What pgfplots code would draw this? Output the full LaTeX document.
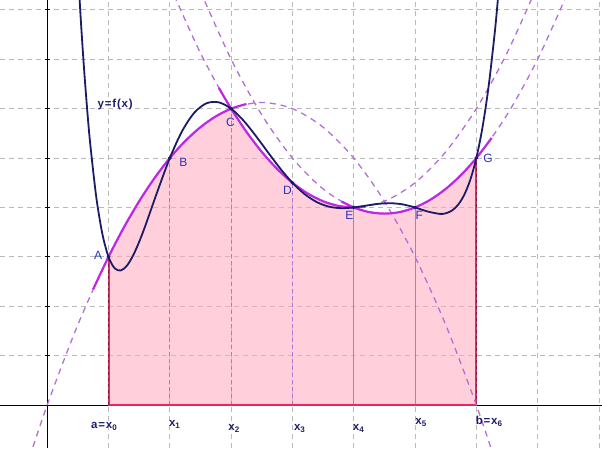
\documentclass[border=0pt]{standalone}
\usepackage{fontspec}
\setmainfont{Liberation Sans}
\newfontfamily\lblfont[LetterSpace=7]{Liberation Sans}
\usepackage{pgfplots}
\pgfplotsset{compat=1.18}
\definecolor{navy}{RGB}{28,28,100}
\definecolor{lblnavy}{RGB}{30,30,110}
\definecolor{ptlbl}{RGB}{50,50,175}
\definecolor{simp}{RGB}{190,40,225}
\definecolor{simpd}{RGB}{180,110,215}
\definecolor{pinkf}{RGB}{255,170,190}
\definecolor{rededge}{RGB}{230,40,95}
\definecolor{vline}{RGB}{175,120,215}
\definecolor{gridc}{RGB}{185,185,185}
\begin{document}
\begin{tikzpicture}
\begin{axis}[
 scale only axis, width=602bp, height=448bp,
 xmin=-0.77, xmax=9.05, ymin=-0.87, ymax=8.2,
 axis lines=middle, axis line style={-, black, line width=0.9bp},
 xtick={1,...,9}, ytick={1,...,8},
 xticklabels={}, yticklabels={},
 grid=major, major grid style={gridc, line width=0.8bp, dash pattern=on 5bp off 4bp},
 x tick style={draw=none}, y tick style={black, line width=0.8bp}, major tick length=5bp,
 clip=true,
]
\coordinate (SW) at (rel axis cs:0,0);
\coordinate (NE) at (rel axis cs:1,1);
% Simpson area
\addplot[draw=none, fill=pinkf, fill opacity=0.55] coordinates {
(1,0)(1,3)(1.1,3.245)(1.2,3.48)(1.3,3.705)(1.4,3.92)(1.5,4.125)(1.6,4.32)(1.7,4.505)(1.8,4.68)(1.9,4.845)
(2,5)(2.1,5.145)(2.2,5.28)(2.3,5.405)(2.4,5.52)(2.5,5.625)(2.6,5.72)(2.7,5.805)(2.8,5.88)(2.9,5.945)
(3,6)(3.1,5.805)(3.2,5.62)(3.3,5.445)(3.4,5.28)(3.5,5.125)(3.6,4.98)(3.7,4.845)(3.8,4.72)(3.9,4.605)
(4,4.5)(4.1,4.405)(4.2,4.32)(4.3,4.245)(4.4,4.18)(4.5,4.125)(4.6,4.08)(4.7,4.045)(4.8,4.02)(4.9,4.005)
(5,4)(5.1,3.955)(5.2,3.92)(5.3,3.895)(5.4,3.88)(5.5,3.875)(5.6,3.88)(5.7,3.895)(5.8,3.92)(5.9,3.955)
(6,4)(6.1,4.055)(6.2,4.12)(6.3,4.195)(6.4,4.28)(6.5,4.375)(6.6,4.48)(6.7,4.595)(6.8,4.72)(6.9,4.855)
(7,5)(7,0)} \closedcycle;
% ordinates
\addplot[vline, line width=1bp, dash pattern=on 4bp off 3bp] coordinates {(2,0)(2,5)};
\addplot[vline, line width=1bp, dash pattern=on 4bp off 3bp] coordinates {(3,0)(3,6)};
\addplot[vline, line width=1bp, dash pattern=on 4bp off 3bp] coordinates {(4,0)(4,4.5)};
\addplot[vline, line width=1bp] coordinates {(5,0)(5,4)};
\addplot[vline, line width=1bp] coordinates {(6,0)(6,4)};
\addplot[rededge, line width=2bp] coordinates {(1,3)(1,0)(7,0)(7,5)};
\addplot[rededge!60!black, line width=1.6bp, dash pattern=on 3bp off 3bp] coordinates {(1,0)(1,3)};
\addplot[rededge!60!black, line width=1.6bp, dash pattern=on 3bp off 3bp] coordinates {(7,0)(7,5)};
% dashed parabolas
\addplot[simpd, line width=1.3bp, dash pattern=on 6bp off 5bp, smooth] coordinates {
(-0.4,-1.48)(0,0)(0.5,1.625)(1,3)(1.5,4.125)(2,5)(2.5,5.625)(3,6)(3.5,6.125)(4,6)(4.5,5.625)(5,5)(5.5,4.125)(6,3)(6.5,1.625)(7,0)(7.4,-1.48)};
\addplot[simpd, line width=1.3bp, dash pattern=on 6bp off 5bp, smooth] coordinates {
(2,8.5)(2.5,7.125)(3,6)(3.5,5.125)(4,4.5)(4.5,4.125)(5,4)(5.5,4.125)(6,4.5)(6.5,5.125)(7,6)(7.5,7.125)(8,8.5)};
\addplot[simpd, line width=1.3bp, dash pattern=on 6bp off 5bp, smooth] coordinates {
(2.5,8.375)(3,7)(3.5,5.875)(4,5)(4.5,4.375)(5,4)(5.5,3.875)(6,4)(6.5,4.375)(7,5)(7.5,5.875)(8,7)(8.5,8.375)};
% solid parabolas
\addplot[simp, line width=2.2bp, smooth] coordinates {
(0.75,2.344)(1,3)(1.25,3.594)(1.5,4.125)(1.75,4.594)(2,5)(2.25,5.344)(2.5,5.625)(2.75,5.844)(3,6)(3.25,6.094)};
\addplot[simp, line width=2.2bp, smooth] coordinates {
(2.8,6.42)(3,6)(3.25,5.531)(3.5,5.125)(3.75,4.781)(4,4.5)(4.25,4.281)(4.5,4.125)(4.75,4.031)(5,4)(5.2,4.02)};
\addplot[simp, line width=2.2bp, smooth] coordinates {
(4.8,4.12)(5,4)(5.25,3.906)(5.5,3.875)(5.75,3.906)(6,4)(6.25,4.156)(6.5,4.375)(6.75,4.656)(7,5)(7.25,5.406)};
% f(x)
\addplot[navy, line width=1.8bp, smooth] coordinates {
(0.5,8.833)(0.55,7.76)(0.6,6.827)(0.65,6.013)(0.7,5.312)(0.8,4.213)(0.9,3.463)(1.0,3)(1.1,2.769)(1.2,2.724)
(1.3,2.821)(1.4,3.025)(1.5,3.303)(1.6,3.628)(1.8,4.332)(2.0,5)(2.2,5.544)(2.4,5.919)(2.6,6.110)(2.8,6.128)
(3.0,6)(3.2,5.762)(3.4,5.454)(3.6,5.118)(3.8,4.790)(4.0,4.5)(4.2,4.269)(4.4,4.107)(4.6,4.015)(4.8,3.985)
(5.0,4)(5.2,4.037)(5.4,4.073)(5.6,4.086)(5.8,4.062)(6.0,4)(6.2,3.920)(6.4,3.870)(6.5,3.881)(6.6,3.935)
(6.7,4.050)(6.8,4.249)(6.9,4.555)(7.0,5)(7.1,5.618)(7.2,6.447)(7.3,7.535)(7.35,8.191)(7.4,8.931)};
% points
\addplot[only marks, mark=*, mark size=1.7bp, navy] coordinates {(1,3)(2,5)(3,6)(4,4.5)(5,4)(6,4)(7,5)};
% point labels
\begin{scope}[every node/.style={text=ptlbl, font=\fontsize{12bp}{14bp}\selectfont, inner sep=0pt}]
\node at (axis cs:0.83,3.02) {A};
\node at (axis cs:2.22,4.92) {B};
\node at (axis cs:2.99,5.73) {C};
\node at (axis cs:3.92,4.35) {D};
\node at (axis cs:4.93,3.83) {E};
\node at (axis cs:6.07,3.83) {F};
\node at (axis cs:7.19,5.0) {G};
\end{scope}
\begin{scope}[every node/.style={text=lblnavy, font=\lblfont\bfseries\fontsize{11.5bp}{13bp}\selectfont, inner sep=0pt}]
\node at (axis cs:1.11,6.09) {y=f(x)};
\node at (axis cs:0.93,-0.43) {a=x\textsubscript{0}};
\node at (axis cs:2.08,-0.40) {x\textsubscript{1}};
\node at (axis cs:3.05,-0.48) {x\textsubscript{2}};
\node at (axis cs:4.12,-0.47) {x\textsubscript{3}};
\node at (axis cs:5.08,-0.47) {x\textsubscript{4}};
\node at (axis cs:6.10,-0.36) {x\textsubscript{5}};
\node at (axis cs:7.21,-0.33) {b=x\textsubscript{6}};
\end{scope}
\end{axis}
\pgfresetboundingbox
\path (SW) rectangle (NE);
\end{tikzpicture}
\end{document}
